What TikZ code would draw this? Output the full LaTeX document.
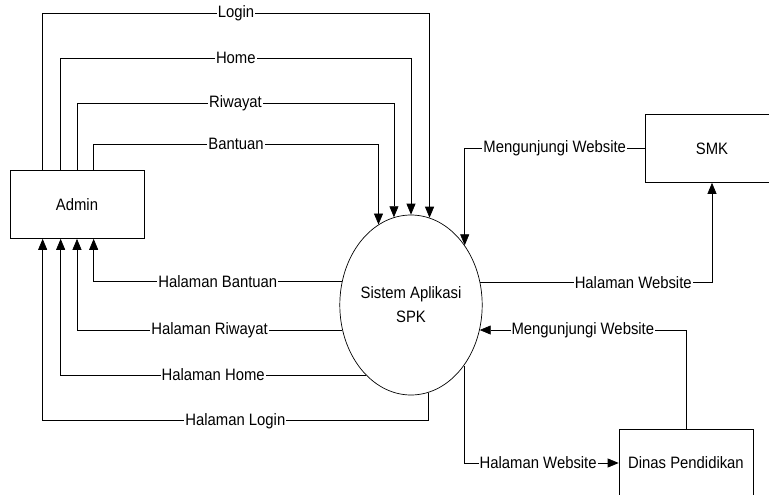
\documentclass[tikz,border=0pt]{standalone}
\usepackage{fontspec}
\setmainfont{Liberation Sans}[FakeStretch=0.9]
\usepackage{tikz}
\usetikzlibrary{shapes.geometric,arrows.meta}

\begin{document}
\begin{tikzpicture}[x=1pt,y=-1pt,->,>={Triangle[length=11pt,width=9pt]},
	line width=0.7pt,
	font=\fontsize{16.5}{24}\selectfont,
	entity/.style={draw,rectangle,-,inner sep=0pt,minimum width=134pt,minimum height=68pt},
	process/.style={draw,ellipse,-,inner sep=0pt,minimum width=134pt,minimum height=180pt,align=center},
	flow/.style={fill=white,inner sep=1pt}]
		\useasboundingbox (0,0) rectangle (769,495);
		\clip (0,0) rectangle (769,495);

		\node[entity] (admin) at (77,204.5) {Admin};
		\node[process] (sys) at (411,305) {Sistem Aplikasi\\SPK};
		\node[entity] (smk) at (712,148.5) {SMK};
		\node[entity] (dinas) at (686,463) {Dinas Pendidikan};

		% admin -> sistem
		\draw ([xshift=33pt]admin.north west) -- ++(0,-157) -| node[flow,pos=0.25]{Login} (sys.78.9);
		\draw ([xshift=51pt]admin.north west) -- ++(0,-112) -| node[flow,pos=0.25]{Home} (sys.north);
		\draw (admin.north) -- ++(0,-67) -| node[flow,pos=0.25]{Riwayat} (sys.101.1);
		\draw ([xshift=84pt]admin.north west) -- ++(0,-26) -| node[flow,pos=0.25]{Bantuan} (sys.112.9);

		% sistem -> admin
		\draw (sys.161.3) -| node[flow,pos=0.25]{Halaman Bantuan} ([xshift=84pt]admin.south west);
		\draw (sys.200.4) -| node[flow,pos=0.25]{Halaman Riwayat} (admin.south);
		\draw (sys.237.1) -| node[flow,pos=0.25]{Halaman Home} ([xshift=51pt]admin.south west);
		\draw (sys.281.1) -- ++(0,28) -| node[flow,pos=0.25]{Halaman Login} ([xshift=33pt]admin.south west);

		% smk
		\draw (smk.west) -| node[flow,pos=0.25]{Mengunjungi Website} (sys.48.9);
		\draw (sys.18.7) -| node[flow,pos=0.33]{Halaman Website} (smk.south);

		% dinas pendidikan
		\draw (dinas.north) |- node[flow,pos=0.75]{Mengunjungi Website} (sys.340.5);
		\draw (sys.311.1) |- node[flow,pos=0.74]{Halaman Website} (dinas.west);
	\end{tikzpicture}
\end{document}
